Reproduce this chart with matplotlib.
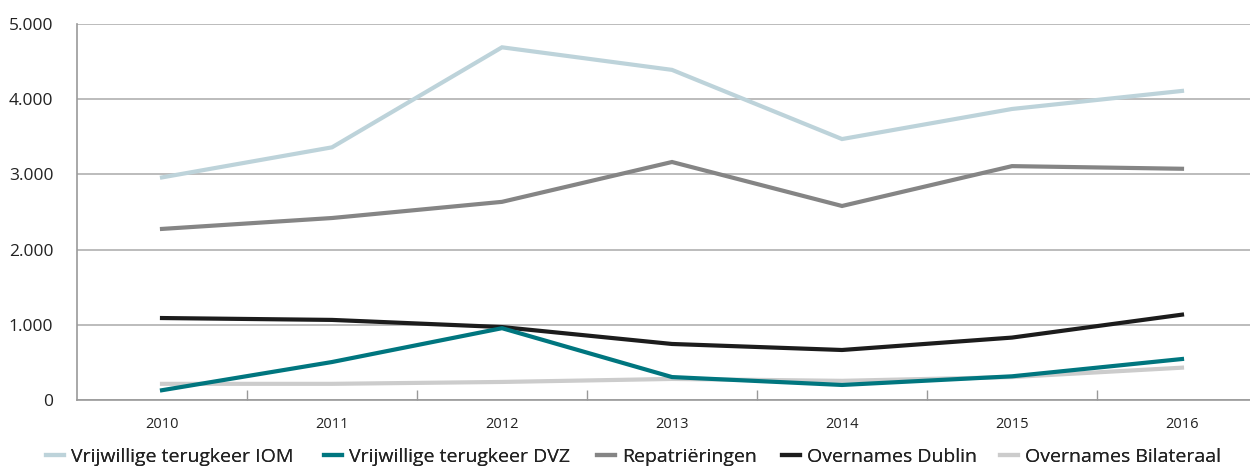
import matplotlib.pyplot as plt
from matplotlib.ticker import FuncFormatter, FixedLocator

plt.rcParams['font.family'] = ['Open Sans', 'DejaVu Sans']

# =========================
# data
# =========================
years = ["2010", "2011", "2012", "2013", "2014", "2015", "2016"]

iom = [2960, 3360, 4690, 4390, 3470, 3870, 4110]
dvz = [130, 505, 955, 305, 200, 315, 545]
repatriering = [2275, 2420, 2635, 3165, 2580, 3110, 3075]
dublin = [1090, 1065, 970, 745, 665, 830, 1135]
bilateraal = [215, 215, 240, 280, 255, 305, 430]

series = [
    ("Vrijwillige terugkeer IOM", iom, "#bdd3da"),
    ("Vrijwillige terugkeer DVZ", dvz, "#00767f"),
    ("Repatriëringen", repatriering, "#858585"),
    ("Overnames Dublin", dublin, "#1c1c1c"),
    ("Overnames Bilateraal", bilateraal, "#cccccc"),
]

# legend entry x positions (pixels) in the reference layout
legend_x = [46, 324, 597, 782, 1000]

# =========================
# plot
# =========================
W, H = 1250, 468
fig = plt.figure(figsize=(W / 100, H / 100), dpi=100)
ax = fig.add_axes([77 / W, 1 - 400 / H, 1190 / W, 376 / H])

x = list(range(len(years)))
# light lines first so the dark ones stay on top
order = [0, 4, 2, 3, 1]
handles = {}
for i in order:
    label, values, color = series[i]
    h, = ax.plot(x, values, color=color, lw=3.0, label=label,
                 solid_joinstyle="miter", zorder=3)
    handles[i] = h

ax.set_xlim(-0.5, len(years) - 0.5)
ax.set_ylim(0, 5000)
ax.set_yticks([0, 1000, 2000, 3000, 4000, 5000])
ax.yaxis.set_major_formatter(FuncFormatter(lambda v, p: f"{int(v):,}".replace(",", ".")))
ax.grid(axis="y", color="#b0b0b0", lw=1.2)
ax.set_axisbelow(True)

# jaartallen in het midden, streepjes op de grenzen
ax.xaxis.set_major_locator(FixedLocator([i + 0.5 for i in x[:-1]]))
ax.xaxis.set_major_formatter(FuncFormatter(lambda v, p: ""))
ax.xaxis.set_minor_locator(FixedLocator(x))
ax.set_xticklabels(years, minor=True)
ax.tick_params(axis="x", which="major", direction="in", length=7, width=1, color="#999999")
ax.tick_params(axis="x", which="minor", length=0, pad=12, labelsize=10.5, labelcolor="#222222")
ax.tick_params(axis="y", length=0, pad=17, labelsize=12.5, labelcolor="#222222")

for side in ["top", "right"]:
    ax.spines[side].set_visible(False)
for side in ["left", "bottom"]:
    ax.spines[side].set_color("#999999")
    ax.spines[side].set_linewidth(1.2)

# legenda: one entry per call so each sits where it does in the reference
for i, (label, values, color) in enumerate(series):
    leg = fig.legend(
        [handles[i]], [label],
        loc="center left",
        bbox_to_anchor=(legend_x[i] / W, 1 - 457 / H),
        frameon=False,
        fontsize=14,
        handlelength=0.95,
        handletextpad=0.35,
        borderpad=0,
        borderaxespad=0,
    )
    leg.get_texts()[0].set_color("#222222")
    fig.add_artist(leg)

plt.savefig("out.png", dpi=100)
